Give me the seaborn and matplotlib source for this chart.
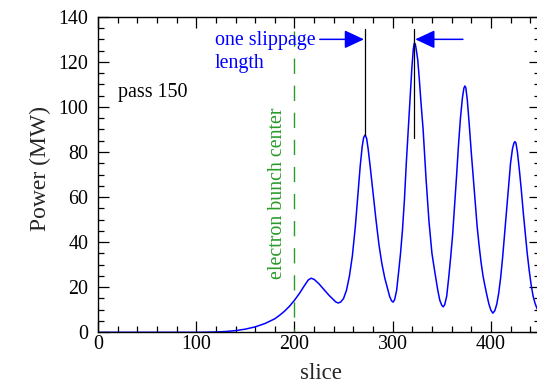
import matplotlib
matplotlib.use("Agg")
import matplotlib.pyplot as plt
import seaborn as sns
import pandas as pd
from matplotlib.ticker import MultipleLocator

# ---- data ----
slice_pos = [0, 20, 40, 60, 80, 100, 110, 120, 130, 140, 150, 160, 170, 180, 185, 190, 195,
             200, 205, 210, 214, 217, 220, 225, 230, 235, 240, 242, 244.5, 247, 250, 253, 256, 259,
             262, 265, 267, 269, 270.5, 272, 273.5, 275, 277, 280, 283, 286, 289, 292, 295, 297,
             299, 300.5, 302, 304, 306, 308, 310, 312, 314, 316, 318, 319.5, 321, 322, 323, 324,
             325.5, 327, 329, 331, 334, 337, 340, 343, 346, 348, 350, 351.5, 353, 355, 357, 359,
             361, 363, 365, 367, 369, 371, 372.5, 373.5, 374.5, 376, 378, 380, 382, 384, 386,
             388, 390, 392, 394, 396, 398, 400, 402, 404, 406, 408, 410, 412, 414, 416, 418,
             420, 422, 423.5, 424.5, 425.5, 427, 429, 431, 433, 435, 437, 439, 441, 443, 445,
             447, 449, 450]
power_mw = [0, 0, 0, 0, 0, 0, 0.05, 0.15, 0.35, 0.75, 1.4, 2.4, 3.9, 6.0, 7.6, 9.4, 11.6,
            14.2, 17.2, 20.6, 23.2, 24.0, 23.5, 21.5, 19.0, 16.5, 14.4, 13.5, 13.0, 13.4, 15.0, 18.7, 25, 34,
            47, 63, 74, 82.5, 86.5, 87.6, 86, 81.5, 74, 62, 50, 39, 30.5, 24, 19, 15.8,
            13.9, 13.4, 14.5, 18.5, 26.5, 35, 45.5, 59, 76, 91, 106, 117, 125.5, 128.3, 128, 125.5,
            121, 113, 101, 90, 68, 49, 35, 26.5, 18.5, 14.2, 12.0, 11.3, 12.3, 16, 24, 33,
            43, 56, 69, 83, 95, 104, 108.3, 109.3, 108.5, 103, 92, 80, 69, 58, 47,
            38.5, 31, 25, 20.5, 16.3, 12.5, 9.8, 8.5, 9.6, 12.5, 17.5, 24.5, 33.5, 44, 55, 65.5,
            75, 81.5, 84, 84.6, 84, 80, 72, 63, 53, 44, 35, 27.5, 21, 16, 12.8,
            10.5, 9.2, 8.9]

x_ticks = [0, 100, 200, 300, 400]
y_ticks = [0, 20, 40, 60, 80, 100, 120, 140]
bunch_center = 200
peak_a = 271.8
peak_b = 321.9

df = pd.DataFrame({"slice": slice_pos, "power": power_mw})

sns.set_style("ticks")
plt.rcParams["font.family"] = ["Liberation Serif", "DejaVu Serif"]

fig = plt.figure(figsize=(5.37, 3.85), dpi=100)
ax = fig.add_axes([98 / 537, 1 - 332.3 / 385, 442 / 537, (332.3 - 16.8) / 385])

sns.lineplot(data=df, x="slice", y="power", ax=ax, color="#0000ff", lw=1.1,
             estimator=None, sort=False)

ax.set_xlim(0, 450)
ax.set_ylim(0, 140)
ax.set_xticks(x_ticks)
ax.set_yticks(y_ticks)
ax.xaxis.set_minor_locator(MultipleLocator(20))
ax.yaxis.set_minor_locator(MultipleLocator(5))
ax.tick_params(which="both", direction="in", top=True, right=True, colors="black",
               labelsize=14.4, width=0.9)
ax.tick_params(which="major", length=8)
ax.tick_params(which="minor", length=4)
ax.tick_params(axis="y", which="both", pad=7)
ax.tick_params(axis="x", which="both", pad=2)
for sp in ax.spines.values():
    sp.set_visible(True)
    sp.set_color("black")
    sp.set_linewidth(1.0)

ax.set_xlabel("slice", fontsize=16.5)
ax.set_ylabel("Power (MW)", fontsize=17)
ax.xaxis.set_label_coords(0.505, -0.098)
ax.yaxis.set_label_coords(-0.106, 0.52)

# electron bunch center marker
green = "#2a9a2a"
ax.plot([bunch_center, bunch_center], [133.5, 0], color=green, lw=1.0,
        linestyle=(0, (11, 8.5)))
ax.text(186.9, 61.6, "electron bunch center", color=green, fontsize=14.4,
        rotation=90, rotation_mode="anchor", ha="center", va="baseline")

# slippage markers
ax.plot([peak_a, peak_a], [87.6, 134.4], color="black", lw=0.9)
ax.plot([peak_b, peak_b], [86.0, 134.4], color="black", lw=0.9)
arrow = dict(arrowstyle="-|>,head_length=0.6,head_width=0.28", color="#0000ff", lw=1.1,
             mutation_scale=20, shrinkA=0, shrinkB=0)
ax.annotate("", xy=(270.8, 130), xytext=(225.8, 130), arrowprops=arrow)
ax.annotate("", xy=(323.0, 130), xytext=(371.5, 130), arrowprops=arrow)
ax.text(119, 127.4, "one slippage", color="#0000ff", fontsize=14.4, ha="left", va="baseline")
ax.text(119, 117.2, "length", color="#0000ff", fontsize=14.4, ha="left", va="baseline")

ax.text(20.4, 104.4, "pass 150", color="black", fontsize=14.4, ha="left", va="baseline")

fig.savefig("out.png", dpi=100)
